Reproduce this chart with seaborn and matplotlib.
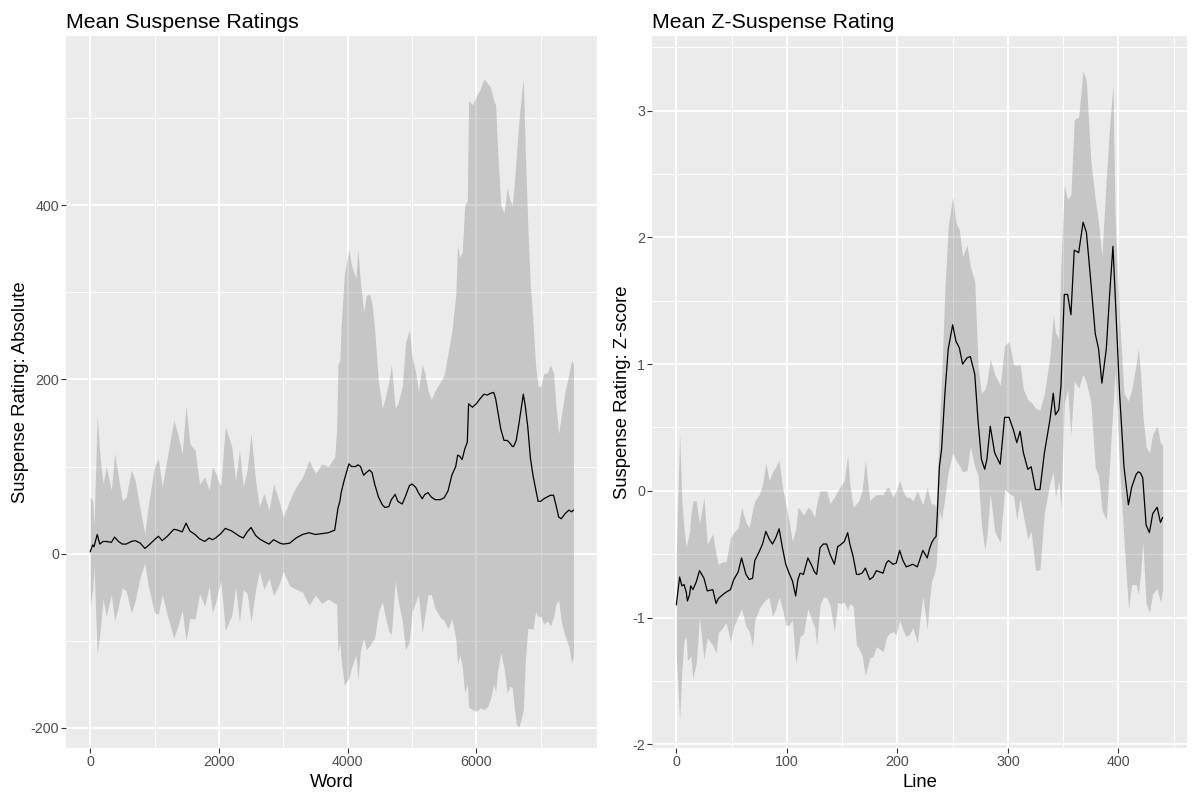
import numpy as np
import pandas as pd
import seaborn as sns
import matplotlib.pyplot as plt
from matplotlib.ticker import MultipleLocator

# Left panel: mean absolute suspense rating per word, with +/- 1 sd band
words = [0, 40, 60, 110, 150, 200, 250, 330, 380, 440,
         500, 560, 640, 700, 780, 850, 900, 1000, 1060, 1120,
         1200, 1300, 1360, 1430, 1490, 1550, 1630, 1700, 1780, 1850,
         1900, 1950, 2030, 2100, 2200, 2260, 2320, 2380, 2440, 2500,
         2570, 2630, 2700, 2780, 2850, 2950, 3000, 3100, 3200, 3300,
         3400, 3500, 3600, 3700, 3800, 3830, 3850, 3880, 3900, 3950,
         4000, 4020, 4060, 4130, 4160, 4200, 4250, 4290, 4340, 4380,
         4420, 4480, 4540, 4580, 4640, 4680, 4740, 4780, 4850, 4900,
         4960, 5000, 5060, 5100, 5160, 5200, 5250, 5300, 5360, 5440,
         5500, 5560, 5620, 5680, 5710, 5740, 5780, 5820, 5860, 5880,
         5940, 6000, 6060, 6120, 6170, 6220, 6270, 6300, 6330, 6380,
         6430, 6480, 6520, 6560, 6580, 6620, 6660, 6700, 6730, 6760,
         6800, 6840, 6880, 6920, 6960, 7000, 7050, 7100, 7150, 7200,
         7240, 7280, 7320, 7380, 7440, 7480, 7510]
abs_mean = [2, 10, 8, 22, 11, 14, 14, 13, 19, 14,
            11, 11, 14, 15, 12, 6, 9, 16, 20, 15,
            20, 28, 27, 25, 35, 26, 22, 17, 14, 18,
            16, 18, 23, 29, 26, 23, 20, 18, 25, 30,
            21, 17, 14, 11, 16, 12, 11, 12, 18, 22,
            24, 22, 23, 24, 27, 42, 52, 60, 70, 85,
            98, 103, 100, 100, 102, 100, 90, 93, 96, 93,
            80, 65, 56, 53, 54, 62, 68, 60, 57, 66,
            78, 80, 76, 70, 63, 68, 70, 65, 62, 62,
            64, 72, 90, 100, 113, 112, 108, 120, 128, 172,
            168, 172, 178, 183, 182, 184, 185, 178, 165, 143,
            130, 130, 127, 123, 123, 130, 148, 168, 183, 170,
            145, 110, 90, 75, 60, 60, 63, 65, 67, 67,
            55, 42, 40, 46, 50, 48, 50]
abs_sd = [63, 51, 23, 137, 104, 66, 86, 60, 96, 74,
          50, 54, 82, 69, 38, 17, 45, 84, 89, 62,
          91, 125, 111, 90, 135, 100, 97, 63, 74, 55,
          84, 74, 54, 117, 97, 61, 99, 59, 71, 108,
          63, 37, 55, 39, 64, 45, 31, 49, 59, 66,
          83, 70, 80, 76, 84, 100, 165, 162, 192, 236,
          243, 246, 231, 216, 247, 211, 187, 203, 202, 194,
          177, 132, 111, 124, 143, 155, 99, 112, 135, 176,
          179, 147, 131, 117, 154, 139, 117, 112, 125, 135,
          141, 158, 165, 197, 241, 228, 237, 280, 277, 348,
          347, 353, 355, 362, 358, 351, 335, 337, 300, 257,
          261, 290, 279, 277, 293, 325, 347, 357, 362, 295,
          231, 196, 177, 142, 132, 132, 144, 142, 150, 140,
          112, 96, 118, 141, 157, 174, 167]

# Right panel: mean z-scored suspense rating per line, with +/- 1 sd band
lines = [0, 3, 5, 7, 9, 10, 12, 13, 15, 18,
         21, 25, 28, 33, 36, 38, 42, 45, 49, 52,
         56, 59, 63, 66, 69, 71, 75, 78, 81, 84,
         87, 90, 93, 96, 99, 102, 105, 108, 110, 112,
         115, 119, 122, 125, 127, 130, 133, 136, 139, 143,
         146, 148, 152, 155, 157, 160, 163, 165, 168, 171,
         175, 178, 181, 184, 187, 190, 192, 196, 199, 202,
         205, 208, 211, 214, 218, 220, 223, 227, 229, 231,
         233, 235, 236, 238, 240, 243, 246, 250, 253, 256,
         259, 263, 266, 270, 273, 276, 279, 281, 284, 288,
         293, 297, 301, 305, 308, 311, 314, 318, 321, 325,
         329, 333, 338, 341, 343, 346, 348, 351, 354, 357,
         360, 364, 368, 371, 375, 379, 382, 385, 389, 392,
         395, 397, 401, 405, 409, 412, 416, 418, 420, 422,
         425, 428, 431, 435, 438, 440]
z_mean = [-0.90, -0.68, -0.75, -0.74, -0.80, -0.87, -0.82, -0.75, -0.78, -0.72,
          -0.63, -0.69, -0.79, -0.78, -0.89, -0.85, -0.82, -0.80, -0.78, -0.70,
          -0.64, -0.53, -0.66, -0.70, -0.69, -0.55, -0.48, -0.42, -0.32, -0.38,
          -0.42, -0.37, -0.30, -0.45, -0.58, -0.65, -0.71, -0.83, -0.70, -0.65,
          -0.66, -0.53, -0.58, -0.64, -0.66, -0.45, -0.42, -0.42, -0.50, -0.58,
          -0.44, -0.43, -0.40, -0.33, -0.42, -0.52, -0.66, -0.66, -0.65, -0.61,
          -0.70, -0.68, -0.63, -0.64, -0.65, -0.57, -0.55, -0.58, -0.57, -0.47,
          -0.55, -0.60, -0.59, -0.58, -0.60, -0.55, -0.47, -0.53, -0.46, -0.41,
          -0.38, -0.36, -0.20, 0.19, 0.33, 0.77, 1.12, 1.31, 1.18, 1.13,
          1.00, 1.05, 1.06, 0.92, 0.55, 0.25, 0.17, 0.25, 0.51, 0.30,
          0.21, 0.58, 0.58, 0.48, 0.38, 0.47, 0.30, 0.17, 0.19, 0.01,
          0.01, 0.30, 0.56, 0.77, 0.60, 0.64, 0.83, 1.55, 1.55, 1.39,
          1.90, 1.88, 2.12, 2.04, 1.65, 1.24, 1.12, 0.85, 1.12, 1.55,
          1.93, 1.55, 0.77, 0.19, -0.11, 0.03, 0.13, 0.15, 0.14, 0.10,
          -0.27, -0.33, -0.18, -0.13, -0.25, -0.21]
z_sd = [0.40, 1.13, 0.67, 0.44, 0.35, 0.47, 0.50, 0.55, 0.70, 0.64,
        0.37, 0.64, 0.37, 0.44, 0.39, 0.27, 0.26, 0.24, 0.41, 0.37,
        0.35, 0.40, 0.41, 0.41, 0.54, 0.47, 0.45, 0.47, 0.54, 0.46,
        0.57, 0.56, 0.54, 0.48, 0.48, 0.41, 0.31, 0.53, 0.57, 0.50,
        0.47, 0.40, 0.43, 0.43, 0.56, 0.45, 0.42, 0.42, 0.40, 0.53,
        0.44, 0.46, 0.48, 0.61, 0.47, 0.39, 0.56, 0.58, 0.65, 0.85,
        0.62, 0.63, 0.60, 0.61, 0.62, 0.59, 0.58, 0.53, 0.57, 0.55,
        0.55, 0.55, 0.54, 0.50, 0.60, 0.50, 0.36, 0.56, 0.41, 0.30,
        0.28, 0.23, 0.25, 0.35, 0.56, 0.82, 0.97, 1.01, 0.94, 0.93,
        0.85, 0.89, 0.71, 0.73, 0.43, 0.52, 0.63, 0.61, 0.53, 0.62,
        0.62, 0.57, 0.60, 0.52, 0.61, 0.53, 0.50, 0.55, 0.51, 0.64,
        0.63, 0.47, 0.50, 0.62, 0.65, 0.56, 0.97, 0.86, 0.75, 0.95,
        1.03, 1.07, 1.20, 1.19, 0.95, 1.06, 1.00, 1.00, 1.35, 1.33,
        1.27, 0.60, 0.59, 0.58, 0.82, 0.77, 0.87, 0.97, 0.79, 0.50,
        0.62, 0.63, 0.63, 0.64, 0.63, 0.57]

sns.set_theme(style="darkgrid", rc={
    "axes.facecolor": "#EBEBEB",
    "figure.facecolor": "white",
    "grid.color": "white",
    "axes.unicode_minus": False,
})
plt.rcParams["font.family"] = ["Liberation Sans", "DejaVu Sans"]

df_abs = pd.DataFrame({"Word": words, "mean": abs_mean, "sd": abs_sd})
df_z = pd.DataFrame({"Line": lines, "mean": z_mean, "sd": z_sd})

fig = plt.figure(figsize=(12, 7.96), dpi=100)
ax1 = fig.add_axes([66 / 1200, 48 / 796, 531 / 1200, 712 / 796])
ax2 = fig.add_axes([652 / 1200, 48 / 796, 535 / 1200, 712 / 796])


def draw_panel(ax, df, x, title, ylabel, xlim, ylim, xstep, ystep, ylab_x):
    # ribbon = mean +/- sd, like geom_ribbon
    ax.fill_between(df[x], df["mean"] - df["sd"], df["mean"] + df["sd"],
                    color="#333333", alpha=0.2, linewidth=0, zorder=2)
    sns.lineplot(data=df, x=x, y="mean", color="black", linewidth=0.9,
                 estimator=None, ax=ax, zorder=3)
    ax.set_xlim(*xlim)
    ax.set_ylim(*ylim)
    ax.xaxis.set_major_locator(MultipleLocator(xstep))
    ax.xaxis.set_minor_locator(MultipleLocator(xstep / 2))
    ax.yaxis.set_major_locator(MultipleLocator(ystep))
    ax.yaxis.set_minor_locator(MultipleLocator(ystep / 2))
    ax.grid(which="major", color="white", linewidth=1.3)
    ax.grid(which="minor", color="white", linewidth=0.65)
    ax.set_axisbelow(True)
    for s in ax.spines.values():
        s.set_visible(False)
    ax.tick_params(which="major", bottom=True, left=True, length=3.3, width=0.8,
                   color="#333333", labelcolor="#4D4D4D", labelsize=10.3, pad=1.6)
    ax.tick_params(which="minor", length=0)
    ax.set_title(title, loc="left", fontsize=15.4, color="black", pad=6)
    ax.set_xlabel(x, fontsize=13.3, color="black", va="top")
    ax.set_ylabel(ylabel, fontsize=13.3, color="black", va="center")
    ax.xaxis.set_label_coords(0.5, -0.0364)
    ax.yaxis.set_label_coords(ylab_x, 0.5)


draw_panel(ax1, df_abs, "Word", "Mean Suspense Ratings", "Suspense Rating: Absolute",
           (-375, 7875), (-223, 594), 2000, 200, -0.0866)
draw_panel(ax2, df_z, "Line", "Mean Z-Suspense Rating", "Suspense Rating: Z-score",
           (-22, 462), (-2.03, 3.59), 100, 1, -0.056)

fig.savefig("out.png", dpi=100)
